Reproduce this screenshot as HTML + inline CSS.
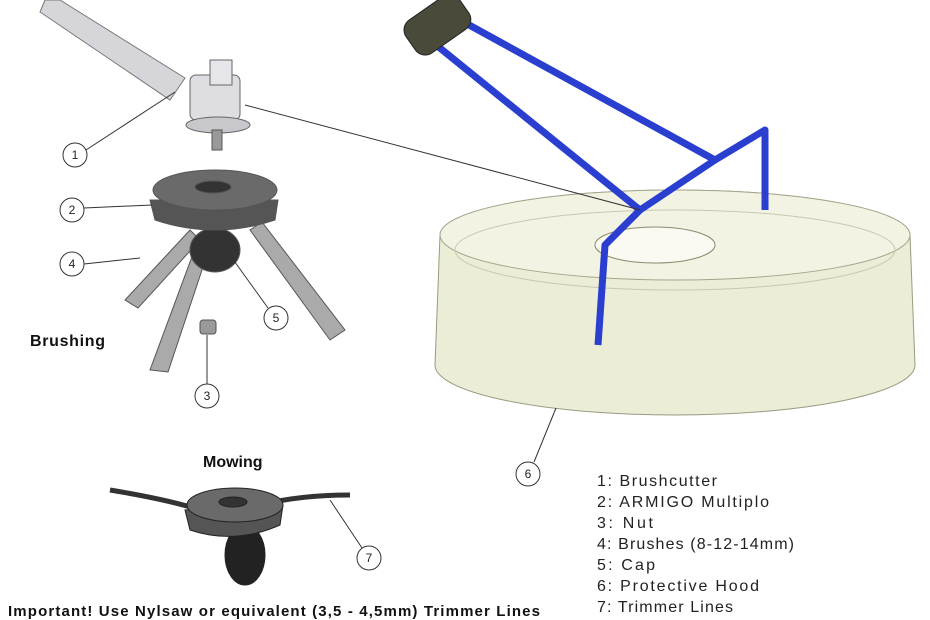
<!DOCTYPE html>
<html><head><meta charset="utf-8"><style>
html,body{margin:0;padding:0;background:#fff;}
svg{display:block;font-family:"Liberation Sans",sans-serif;}
</style></head><body>
<svg width="930" height="620" viewBox="0 0 930 620" xmlns="http://www.w3.org/2000/svg">
<rect width="930" height="620" fill="#fff"/>
<!-- hood -->
<path d="M440 235 A235 45 0 0 1 910 235 L915 365 A240 50 0 0 1 435 365 Z" fill="#ecedd6" stroke="#9a9a80" stroke-width="1"/>
<ellipse cx="675" cy="235" rx="235" ry="45" fill="#f3f3e4" stroke="#a5a58c"/>
<ellipse cx="675" cy="250" rx="220" ry="40" fill="none" stroke="#c8c8b0"/>
<ellipse cx="655" cy="245" rx="60" ry="18" fill="#fafaf2" stroke="#8a8a70"/>
<!-- blue frame -->
<g stroke="#2a3fd0" stroke-width="7" fill="none" stroke-linejoin="round">
<path d="M430 40 L640 210 L605 245 L598 345"/>
<path d="M460 20 L715 160 L765 130 L765 210"/>
<path d="M640 210 L715 160"/>
</g>
<rect x="405" y="5" width="65" height="40" rx="12" transform="rotate(-35 437 25)" fill="#4a4a3a" stroke="#222"/>
<!-- pole -->
<path d="M60 0 L185 78 L170 100 L40 12 L45 0 Z" fill="#d6d6da" stroke="#777"/>
<rect x="190" y="75" width="50" height="45" rx="6" fill="#dedee2" stroke="#666"/>
<rect x="210" y="60" width="22" height="25" fill="#e6e6ea" stroke="#666"/>
<ellipse cx="218" cy="125" rx="32" ry="8" fill="#c8c8cc" stroke="#666"/>
<rect x="212" y="130" width="10" height="20" fill="#999" stroke="#555"/>
<line x1="245" y1="105" x2="640" y2="210" stroke="#333" stroke-width="1"/>
<!-- head brushing -->
<g stroke="#555" stroke-width="1">
<path d="M190 230 L125 300 L138 308 L200 240Z" fill="#aaa"/>
<path d="M200 235 L150 370 L168 372 L212 240Z" fill="#aaa"/>
<path d="M250 230 L330 340 L345 330 L262 222Z" fill="#aaa"/>
<ellipse cx="215" cy="250" rx="25" ry="22" fill="#333"/>
<path d="M150 200 L155 220 Q215 240 275 220 L278 200Z" fill="#555"/>
<ellipse cx="215" cy="190" rx="62" ry="20" fill="#6a6a6a"/>
<ellipse cx="213" cy="187" rx="18" ry="6" fill="#333"/>
<rect x="200" y="320" width="16" height="14" rx="3" fill="#999"/>
</g>
<!-- mowing head -->
<g stroke="#222" stroke-width="1">
<path d="M110 490 Q170 500 200 510" stroke="#333" stroke-width="5" fill="none"/>
<path d="M260 505 Q300 495 350 495" stroke="#333" stroke-width="5" fill="none"/>
<ellipse cx="245" cy="555" rx="20" ry="30" fill="#222"/>
<path d="M185 510 L190 530 Q235 545 280 525 L283 505Z" fill="#555"/>
<ellipse cx="235" cy="505" rx="48" ry="17" fill="#6a6a6a"/>
<ellipse cx="233" cy="502" rx="14" ry="5" fill="#333"/>
</g>
<!-- callouts -->
<g stroke="#333" stroke-width="1" fill="none">
<line x1="86" y1="150" x2="175" y2="92"/>
<line x1="84" y1="208" x2="152" y2="205"/>
<line x1="84" y1="264" x2="140" y2="258"/>
<line x1="268" y1="308" x2="232" y2="258"/>
<line x1="207" y1="384" x2="207" y2="335"/>
<line x1="534" y1="462" x2="556" y2="408"/>
<line x1="362" y1="548" x2="330" y2="500"/>
</g>
<g fill="#fff" stroke="#333" stroke-width="1">
<circle cx="75" cy="155" r="12"/><circle cx="72" cy="210" r="12"/><circle cx="72" cy="264" r="12"/>
<circle cx="276" cy="318" r="12"/><circle cx="207" cy="396" r="12"/><circle cx="528" cy="474" r="12"/><circle cx="369" cy="558" r="12"/>
</g>
<g font-size="12" text-anchor="middle" fill="#222">
<text x="75" y="159">1</text><text x="72" y="214">2</text><text x="72" y="268">4</text><text x="276" y="322">5</text>
<text x="207" y="400">3</text><text x="528" y="478">6</text><text x="369" y="562">7</text>
</g>
<text x="30" y="346" font-size="16" font-weight="bold" fill="#111" textLength="75">Brushing</text>
<text x="203" y="467" font-size="16" font-weight="bold" fill="#111">Mowing</text>
<g font-size="16" fill="#222">
<text x="597" y="486" textLength="120">1: Brushcutter</text>
<text x="597" y="507" textLength="172">2: ARMIGO Multiplo</text>
<text x="597" y="528" textLength="56">3: Nut</text>
<text x="597" y="549" textLength="197">4: Brushes (8-12-14mm)</text>
<text x="597" y="570" textLength="58">5: Cap</text>
<text x="597" y="591" textLength="162">6: Protective Hood</text>
<text x="597" y="612" textLength="136">7: Trimmer Lines</text>
</g>
<text x="8" y="616" font-size="15" font-weight="bold" fill="#111" textLength="532">Important! Use Nylsaw or equivalent (3,5 - 4,5mm) Trimmer Lines</text>
</svg>
</body></html>
